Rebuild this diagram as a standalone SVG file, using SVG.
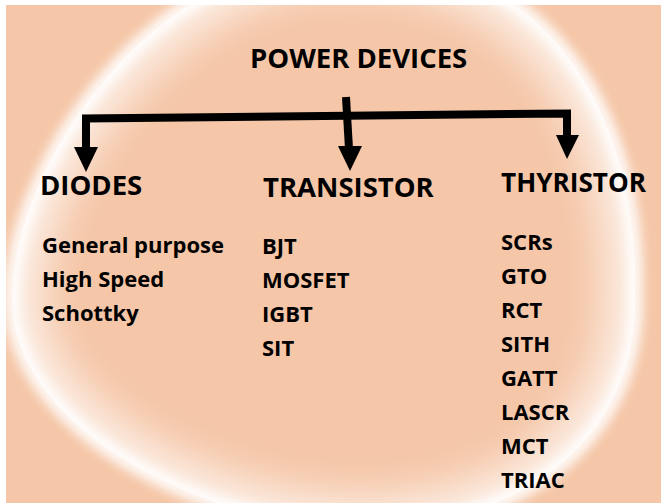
<svg xmlns="http://www.w3.org/2000/svg" width="661" height="503" viewBox="0 0 661 503">
  <defs>
    <filter id="blurNarrow" filterUnits="userSpaceOnUse" x="-100" y="-150" width="860" height="800">
      <feGaussianBlur stdDeviation="6"/>
    </filter>
    <filter id="blurWide" filterUnits="userSpaceOnUse" x="-100" y="-150" width="860" height="800">
      <feGaussianBlur stdDeviation="22"/>
    </filter>
    <path id="ring" d="M12,300 C12,430 210,528 360,528 C530,528 640,430 635,295 C640,130 560,-45 345,-45 C160,-45 12,160 12,300 Z"/>
    <clipPath id="inside">
      <use href="#ring"/>
    </clipPath>
    <clipPath id="frame">
      <rect x="6" y="5" width="655" height="498"/>
    </clipPath>
  </defs>
  <style>
    .t { font-family: "Open Sans", "Liberation Sans", sans-serif; font-weight: 700; fill: #000; }
    .h { font-size: 27.5px; }
    .i { font-size: 22px; }
    .ln { fill: none; stroke: #000; stroke-width: 8; stroke-linejoin: miter; stroke-linecap: butt; }
    .hd { fill: #000; }
  </style>

  <rect x="0" y="0" width="661" height="503" fill="#ffffff"/>
  <g id="background" clip-path="url(#frame)">
    <rect x="6" y="5" width="655" height="498" fill="#f5c6a7"/>
    <g clip-path="url(#inside)">
      <use href="#ring" fill="none" stroke="#ffffff" stroke-width="60" filter="url(#blurWide)" opacity="0.75"/>
    </g>
    <use href="#ring" fill="none" stroke="#ffffff" stroke-width="14" filter="url(#blurNarrow)"/>
  </g>

  <g id="connectors">
    <path class="ln" d="M86,150 L86,118.5 L567,113.5 L567,137"/>
    <path class="ln" d="M346,97 L349,149"/>
    <polygon class="hd" points="74,147 98,147 86,172"/>
    <polygon class="hd" points="338,146 362,146 350,171"/>
    <polygon class="hd" points="556,135 579,135 567,159"/>
  </g>

  <g id="power-devices">
    <text class="t h" x="250" y="68">POWER DEVICES</text>
  </g>

  <g id="diodes">
    <text class="t h" x="40" y="195">DIODES</text>
    <text class="t i" x="42" y="253">General purpose</text>
    <text class="t i" x="42" y="287">High Speed</text>
    <text class="t i" x="42" y="321">Schottky</text>
  </g>

  <g id="transistor">
    <text class="t h" x="263" y="197">TRANSISTOR</text>
    <text class="t i" x="262" y="254">BJT</text>
    <text class="t i" x="262" y="288">MOSFET</text>
    <text class="t i" x="262" y="322">IGBT</text>
    <text class="t i" x="262" y="356">SIT</text>
  </g>

  <g id="thyristor">
    <text class="t h" x="501" y="192" textLength="145" lengthAdjust="spacingAndGlyphs">THYRISTOR</text>
    <text class="t i" x="501" y="250">SCRs</text>
    <text class="t i" x="501" y="284">GTO</text>
    <text class="t i" x="501" y="318">RCT</text>
    <text class="t i" x="501" y="352">SITH</text>
    <text class="t i" x="501" y="386">GATT</text>
    <text class="t i" x="501" y="420">LASCR</text>
    <text class="t i" x="501" y="454">MCT</text>
    <text class="t i" x="501" y="488">TRIAC</text>
  </g>
</svg>
